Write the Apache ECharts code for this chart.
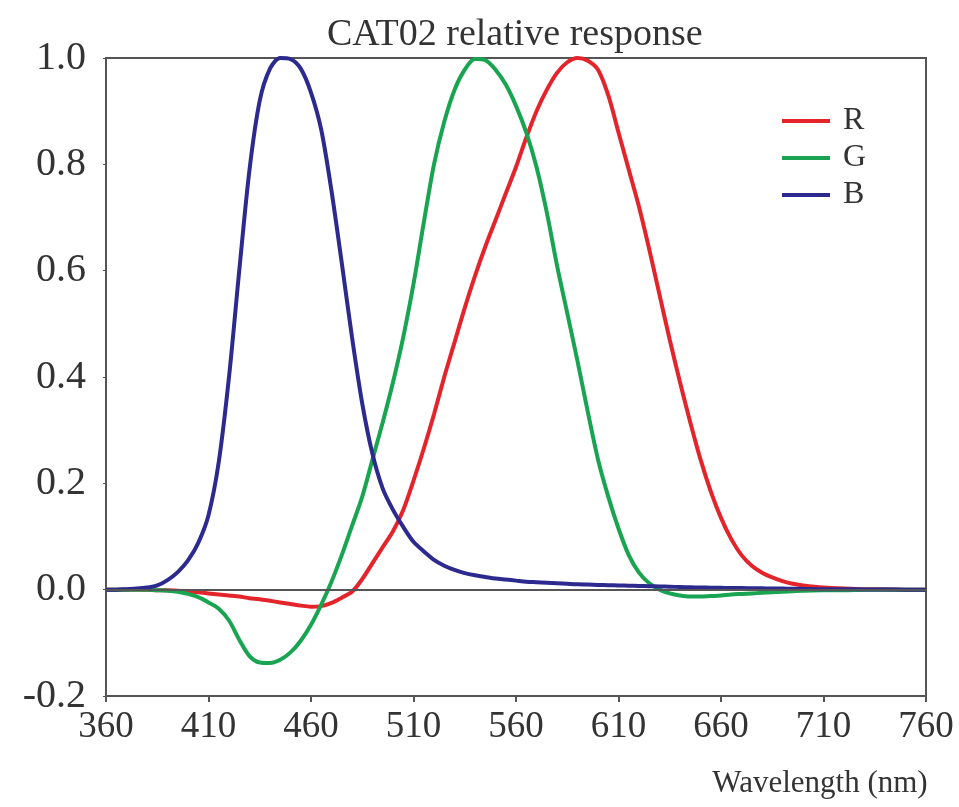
<!DOCTYPE html>
<html>
<head>
<meta charset="utf-8">
<script src="https://cdn.jsdelivr.net/npm/echarts@6/dist/echarts.min.js"></script>
<style>
html,body{margin:0;padding:0;background:#fff;}
#chart{width:959px;height:807px;}
</style>
</head>
<body>
<div id="chart"></div>
<script>
const wavelengths = [360,365,370,375,380,385,390,395,400,405,410,415,420,425,430,435,440,445,450,455,460,465,470,475,480,485,490,495,500,505,510,515,520,525,530,535,540,545,550,555,560,565,570,575,580,585,590,595,600,605,610,615,620,625,630,635,640,645,650,655,660,665,670,675,680,685,690,695,700,710,720,730,740,750,760];

const rValues = [0,0,0,0,0,-0.001,-0.001,-0.002,-0.003,-0.005,-0.007,-0.009,-0.011,-0.013,-0.016,-0.018,-0.021,-0.024,-0.027,-0.03,-0.032,-0.031,-0.025,-0.015,-0.004,0.02,0.05,0.08,0.11,0.15,0.205,0.265,0.33,0.40,0.465,0.53,0.59,0.645,0.695,0.745,0.795,0.85,0.9,0.94,0.972,0.992,1.0,0.995,0.978,0.93,0.86,0.79,0.72,0.64,0.555,0.47,0.39,0.315,0.245,0.185,0.135,0.095,0.065,0.045,0.032,0.023,0.016,0.011,0.008,0.004,0.002,0.001,0.001,0,0];

const gValues = [0,0,0,0,0,-0.001,-0.002,-0.004,-0.008,-0.014,-0.024,-0.036,-0.058,-0.094,-0.125,-0.137,-0.138,-0.132,-0.118,-0.096,-0.066,-0.028,0.015,0.065,0.12,0.175,0.245,0.315,0.39,0.475,0.575,0.69,0.8,0.88,0.94,0.978,0.998,0.996,0.978,0.95,0.91,0.86,0.795,0.71,0.61,0.52,0.43,0.335,0.245,0.175,0.115,0.065,0.032,0.012,0.0,-0.007,-0.011,-0.013,-0.013,-0.012,-0.011,-0.009,-0.008,-0.007,-0.006,-0.005,-0.004,-0.003,-0.002,-0.001,-0.001,0,0,0,0];

const bValues = [0,0,0.001,0.002,0.004,0.008,0.018,0.033,0.055,0.088,0.14,0.24,0.40,0.60,0.79,0.92,0.98,1.0,0.998,0.98,0.935,0.865,0.75,0.615,0.475,0.35,0.255,0.19,0.15,0.118,0.09,0.072,0.056,0.045,0.037,0.031,0.027,0.024,0.021,0.019,0.017,0.015,0.014,0.013,0.012,0.011,0.01,0.0095,0.009,0.0085,0.008,0.0075,0.007,0.0065,0.006,0.0055,0.005,0.0045,0.004,0.0038,0.0035,0.003,0.003,0.0027,0.0025,0.002,0.002,0.0018,0.0015,0.001,0.001,0.0005,0.0005,0,0];

const seriesNames = ['R','G','B'];
const seriesColors = ['#e3242b','#18a450','#2c2a8e'];
const xTickLabels = ['360','410','460','510','560','610','660','710','760'];
const yTickLabels = ['-0.2','0.0','0.2','0.4','0.6','0.8','1.0'];

const FONT = '"Liberation Serif","Times New Roman",serif';
const toPairs = vals => wavelengths.map((w,i)=>[w, vals[i]]);
const allValues = [rValues, gValues, bValues];

const chart = echarts.init(document.getElementById('chart'), null, {renderer:'canvas'});
const series = seriesNames.map((name,i)=>({
  name: name,
  type: 'line',
  data: toPairs(allValues[i]),
  smooth: 0.3,
  showSymbol: false,
  symbol: 'none',
  z: 3,
  lineStyle: {color: seriesColors[i], width: 4},
  itemStyle: {color: seriesColors[i]}
}));
series.push({
  name: 'zero',
  type: 'line',
  data: [],
  silent: true,
  z: 2,
  markLine: {
    silent: true,
    symbol: ['none','none'],
    label: {show:false},
    lineStyle: {color:'#555', width:2, type:'solid'},
    data: [{yAxis: 0}]
  }
});

chart.setOption({
  animation: false,
  backgroundColor: '#fff',
  title: {
    text: 'CAT02 relative response',
    left: 322,
    top: 11,
    textStyle: {fontFamily: FONT, fontSize: 38, fontWeight: 'normal', color: '#333'}
  },
  legend: {
    data: seriesNames,
    orient: 'vertical',
    left: 777,
    top: 100,
    icon: 'rect',
    itemWidth: 48,
    itemHeight: 4,
    itemGap: 5,
    textStyle: {fontFamily: FONT, fontSize: 32, color: '#333', lineHeight: 32, padding:[0,0,0,8]}
  },
  grid: {
    left: 106, right: 33, top: 58, bottom: 111,
    show: true, borderColor: '#555', borderWidth: 2, backgroundColor: 'transparent'
  },
  xAxis: {
    type: 'value',
    min: 360, max: 760, interval: 50,
    name: 'Wavelength (nm)',
    nameLocation: 'middle',
    nameGap: 72,
    nameTextStyle: {fontFamily: FONT, fontSize: 31, color: '#333', align: 'center', verticalAlign: 'top', padding: [0, 0, 0, 608]},
    axisLine: {show: true, onZero: false, lineStyle: {color: '#555', width: 2}},
    axisTick: {show: true, length: 6, lineStyle: {color: '#555', width: 2}},
    splitLine: {show: false},
    axisLabel: {
      fontFamily: FONT, fontSize: 37, color: '#333', margin: 13,
      formatter: v => xTickLabels[Math.round((v-360)/50)]
    }
  },
  yAxis: {
    type: 'value',
    min: -0.2, max: 1.0, interval: 0.2,
    axisLine: {show: true, lineStyle: {color: '#555', width: 2}},
    axisTick: {show: true, length: 3, lineStyle: {color: '#555', width: 1}},
    splitLine: {show: false},
    axisLabel: {
      fontFamily: FONT, fontSize: 40, color: '#333', margin: 20,
      formatter: v => yTickLabels[Math.round((v+0.2)/0.2)]
    }
  },
  series: series
});
</script>
</body>
</html>
